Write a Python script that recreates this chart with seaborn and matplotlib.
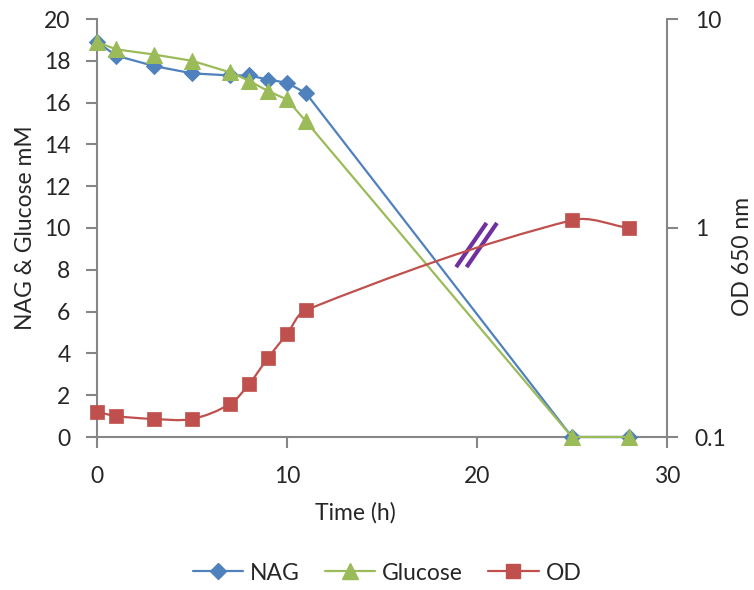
import numpy as np
import pandas as pd
import matplotlib
matplotlib.use("Agg")
import matplotlib.pyplot as plt
from matplotlib.path import Path
from matplotlib.patches import PathPatch
from matplotlib.lines import Line2D
import seaborn as sns

# Time course data
time_h = [0, 1, 3, 5, 7, 8, 9, 10, 11, 25, 28]
nag_mM = [18.9, 18.25, 17.75, 17.4, 17.3, 17.3, 17.1, 16.95, 16.45, 0.0, 0.0]
glucose_mM = [18.9, 18.55, 18.3, 18.0, 17.45, 17.05, 16.55, 16.15, 15.1, 0.0, 0.0]
od_650 = [0.132, 0.126, 0.122, 0.122, 0.144, 0.179, 0.239, 0.311, 0.405, 1.09, 1.0]

left_ticks = list(range(0, 21, 2))
right_ticks = [0.1, 1, 10]
right_tick_labels = ["0.1", "1", "10"]
x_ticks = [0, 10, 20, 30]

C_NAG = "#4F81BD"
C_GLC = "#9BBB59"
C_OD = "#C0504D"
C_AXIS = "#868686"
FS = 16.5

sns.set_theme(style="white")
plt.rcParams["font.family"] = ["Lato", "DejaVu Sans"]
plt.rcParams["font.size"] = FS

df = pd.DataFrame({"time": time_h, "NAG": nag_mM, "Glucose": glucose_mM, "OD": od_650})

fig = plt.figure(figsize=(7.54, 5.90), dpi=100)
ax = fig.add_axes([97 / 754, 1 - 437 / 590, (667 - 97) / 754, (437 - 19) / 590])
ax2 = ax.twinx()

sns.lineplot(data=df, x="time", y="NAG", ax=ax, color=C_NAG, lw=1.6,
             marker="D", markersize=8.5, markeredgecolor=C_NAG, clip_on=False, zorder=3)
sns.lineplot(data=df, x="time", y="Glucose", ax=ax, color=C_GLC, lw=1.6,
             marker="^", markersize=11, markeredgecolor=C_GLC, clip_on=False, zorder=4)

ax.set_xlim(0, 30)
ax.set_ylim(0, 20)
ax2.set_yscale("log")
ax2.set_ylim(0.1, 10)
ax2.set_xlim(0, 30)

# OD joined by a smoothed Bezier curve, built in screen space
pts = ax2.transData.transform(np.column_stack([time_h, od_650]))
n = len(pts)
tangents = []
for i in range(n):
    d = pts[min(i + 1, n - 1)] - pts[max(i - 1, 0)]
    tangents.append(d / np.hypot(*d))
verts = [pts[0]]
codes = [Path.MOVETO]
for i in range(n - 1):
    seg = np.hypot(*(pts[i + 1] - pts[i])) / 3.0
    verts += [pts[i] + tangents[i] * seg, pts[i + 1] - tangents[i + 1] * seg, pts[i + 1]]
    codes += [Path.CURVE4] * 3
verts = ax2.transData.inverted().transform(np.array(verts))
ax2.add_patch(PathPatch(Path(verts, codes), facecolor="none", edgecolor=C_OD, lw=1.6, zorder=2))
sns.scatterplot(data=df, x="time", y="OD", ax=ax2, color=C_OD, marker="s", s=95,
                edgecolor=C_OD, linewidth=0.5, zorder=3, clip_on=False)

ax.set_xticks(x_ticks)
ax.set_yticks(left_ticks)
ax2.set_yticks(right_ticks)
ax2.set_yticklabels(right_tick_labels)
ax2.yaxis.set_minor_locator(matplotlib.ticker.NullLocator())

ax.set_xlabel("Time (h)", fontsize=FS)
ax.set_ylabel("NAG & Glucose mM", fontsize=FS)
ax2.set_ylabel("OD 650 nm", fontsize=FS, rotation=90)
ax.xaxis.set_label_coords(0.453, -0.182)
ax.yaxis.set_label_coords(-0.126, 0.5)
ax2.yaxis.set_label_coords(1.1316, 0.433)
ax.xaxis.label.set_va("center")
ax.yaxis.label.set_va("center")
ax2.yaxis.label.set_va("center")

for a in (ax, ax2):
    for s in a.spines.values():
        s.set_color(C_AXIS)
        s.set_linewidth(1.5)
    a.spines["top"].set_visible(False)
ax.spines["right"].set_visible(False)
ax2.spines["left"].set_visible(False)
ax2.spines["bottom"].set_visible(False)

ax.tick_params(axis="both", direction="out", length=8, width=1.5, color=C_AXIS,
               labelsize=FS, pad=11, left=True, bottom=True)
ax.tick_params(axis="x", pad=13)
ax2.tick_params(axis="y", direction="out", length=8, width=1.5, color=C_AXIS,
                labelsize=FS, pad=12, right=True)

# axis-break marks on the OD curve
for (x0, x1) in ((18.9, 20.5), (19.45, 21.05)):
    ax.plot([x0, x1], [8.13, 10.24], color="#7030A0", lw=3, solid_capstyle="butt", zorder=5)

handles = [
    Line2D([], [], color=C_NAG, lw=1.6, marker="D", markersize=8.5, label="NAG"),
    Line2D([], [], color=C_GLC, lw=1.6, marker="^", markersize=11, label="Glucose"),
    Line2D([], [], color=C_OD, lw=1.6, marker="s", markersize=9.5, label="OD"),
]
if ax.get_legend():
    ax.get_legend().remove()
fig.legend(handles=handles, loc="center", bbox_to_anchor=(387 / 754, 1 - 573 / 590),
           ncol=3, frameon=False, fontsize=FS, handlelength=2.2, columnspacing=1.1,
           handletextpad=0.3, borderpad=0)

fig.savefig("out.png", dpi=100)
